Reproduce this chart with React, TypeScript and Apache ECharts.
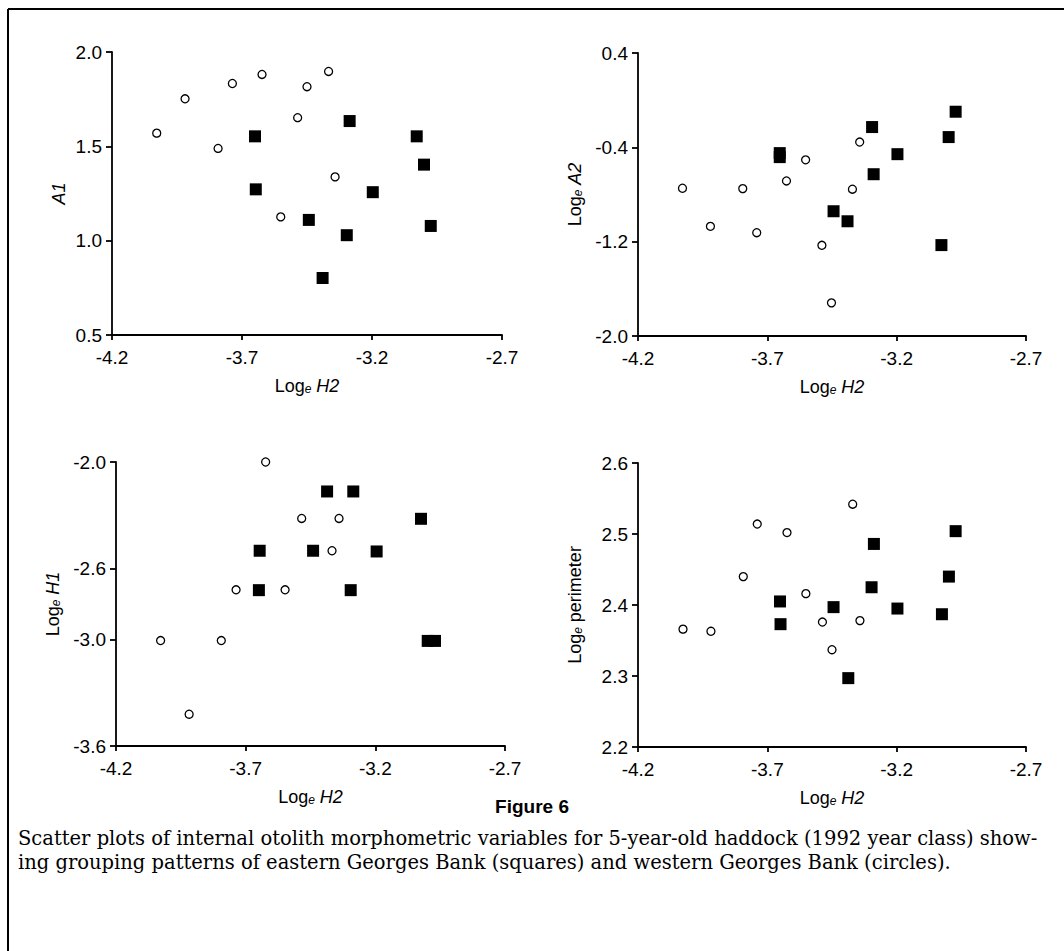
import React, { useEffect, useRef } from "react";
import * as echarts from "echarts";

// x ticks shared by all panels (Log_e H2)
const xTicks = [-4.2, -3.7, -3.2, -2.7];

// Panel A1 vs Log_e H2
const a1Ticks = [0.5, 1.0, 1.5, 2.0];
const a1West = [
  [-4.028, 1.57], [-3.919, 1.752], [-3.737, 1.833], [-3.623, 1.881], [-3.367, 1.897],
  [-3.45, 1.816], [-3.486, 1.652], [-3.792, 1.489], [-3.342, 1.338], [-3.551, 1.126],
];
const a1East = [
  [-3.65, 1.553], [-3.647, 1.272], [-3.443, 1.11], [-3.286, 1.634], [-3.297, 1.029],
  [-3.39, 0.802], [-3.197, 1.257], [-3.028, 1.553], [-3.0, 1.403], [-2.974, 1.078],
];

// Panel Log_e A2 vs Log_e H2
const a2Ticks = [-2.0, -1.2, -0.4, 0.4];
const a2West = [
  [-4.028, -0.747], [-3.92, -1.07], [-3.795, -0.75], [-3.741, -1.124], [-3.626, -0.685],
  [-3.552, -0.506], [-3.489, -1.231], [-3.452, -1.719], [-3.371, -0.755], [-3.343, -0.355],
];
const a2East = [
  [-3.652, -0.449], [-3.652, -0.483], [-3.444, -0.942], [-3.39, -1.027], [-3.295, -0.228],
  [-3.289, -0.628], [-3.197, -0.458], [-3.027, -1.229], [-2.999, -0.313], [-2.972, -0.098],
];

// Panel Log_e H1 vs Log_e H2
const h1Ticks = [-3.6, -3.0, -2.6, -2.0];
const h1West = [
  [-3.623, -2.0], [-3.484, -2.318], [-3.34, -2.318], [-3.367, -2.5], [-3.737, -2.72],
  [-3.548, -2.72], [-4.028, -3.006], [-3.794, -3.006], [-3.918, -3.421],
];
const h1East = [
  [-3.386, -2.166], [-3.285, -2.166], [-3.024, -2.32], [-3.646, -2.5], [-3.44, -2.5],
  [-3.195, -2.504], [-3.649, -2.722], [-3.295, -2.722], [-2.998, -3.008], [-2.97, -3.008],
];

// Panel Log_e perimeter vs Log_e H2
const perTicks = [2.2, 2.3, 2.4, 2.5, 2.6];
const perWest = [
  [-4.026, 2.366], [-3.918, 2.363], [-3.793, 2.44], [-3.739, 2.514], [-3.624, 2.502],
  [-3.551, 2.416], [-3.487, 2.376], [-3.45, 2.337], [-3.342, 2.378], [-3.37, 2.542],
];
const perEast = [
  [-3.651, 2.405], [-3.649, 2.373], [-3.444, 2.397], [-3.387, 2.297], [-3.288, 2.486],
  [-3.297, 2.425], [-3.197, 2.395], [-3.025, 2.387], [-2.998, 2.44], [-2.972, 2.504],
];

const figureTitle = "Figure 6";
const captionLines = [
  "Scatter plots of internal otolith morphometric variables for 5-year-old haddock (1992 year class) show-",
  "ing grouping patterns of eastern Georges Bank (squares) and western Georges Bank (circles).",
];

const FONT = "Liberation Sans";
const rich = {
  n: { fontFamily: FONT, fontSize: 18, color: "#000", lineHeight: 22, verticalAlign: "bottom" },
  s: { fontFamily: FONT, fontSize: 12, color: "#000", fontStyle: "italic", lineHeight: 10, verticalAlign: "bottom" },
  i: { fontFamily: FONT, fontSize: 18, color: "#000", fontStyle: "italic", lineHeight: 22, verticalAlign: "bottom" },
};

const panels = [
  { grid: { left: 112, top: 52, width: 390, height: 283 }, yMin: 0.5, yMax: 2.0, yTicks: a1Ticks,
    yName: "{i|A1}", yGap: 44, west: a1West, east: a1East },
  { grid: { left: 638, top: 53, width: 388, height: 283 }, yMin: -2.0, yMax: 0.4, yTicks: a2Ticks,
    yName: "{n|Log}{s|e}{n| }{i|A2}", yGap: 54, west: a2West, east: a2East },
  { grid: { left: 116, top: 462, width: 389, height: 284 }, yMin: -3.6, yMax: -2.0, yTicks: h1Ticks,
    yName: "{n|Log}{s|e}{n| }{i|H1}", yGap: 54, west: h1West, east: h1East },
  { grid: { left: 638, top: 463, width: 388, height: 284 }, yMin: 2.2, yMax: 2.6, yTicks: perTicks,
    yName: "{n|Log}{s|e}{n| perimeter}", yGap: 54, west: perWest, east: perEast },
];

const axisCommon = {
  axisLine: { onZero: false, lineStyle: { color: "#000", width: 1.8 } },
  splitLine: { show: false },
};

export default function App() {
  const ref = useRef<HTMLDivElement>(null);
  useEffect(() => {
    if (!ref.current) return;
    const chart = echarts.init(ref.current, null, { renderer: "svg" });
    const grid: any[] = [];
    const xAxis: any[] = [];
    const yAxis: any[] = [];
    const series: any[] = [];
    panels.forEach((p, k) => {
      grid.push(p.grid);
      xAxis.push({
        ...axisCommon,
        type: "value",
        gridIndex: k,
        min: -4.2,
        max: -2.7,
        name: "{n|Log}{s|e}{n| }{i|H2}",
        nameLocation: "middle",
        nameGap: 38,
        nameTextStyle: { rich },
        axisTick: { show: true, length: 5, customValues: xTicks, lineStyle: { color: "#000", width: 1.8 } },
        axisLabel: {
          customValues: xTicks,
          margin: 13,
          color: "#000",
          fontFamily: FONT,
          fontSize: 19,
          formatter: (v: number) => v.toFixed(1),
        },
      });
      yAxis.push({
        ...axisCommon,
        type: "value",
        gridIndex: k,
        min: p.yMin,
        max: p.yMax,
        name: p.yName,
        nameLocation: "middle",
        nameRotate: 90,
        nameGap: p.yGap,
        nameTextStyle: { rich },
        axisTick: { show: true, length: 6, customValues: p.yTicks, lineStyle: { color: "#000", width: 1.8 } },
        axisLabel: {
          customValues: p.yTicks,
          margin: 10,
          color: "#000",
          fontFamily: FONT,
          fontSize: 19,
          formatter: (v: number) => v.toFixed(1),
        },
      });
      series.push({
        type: "scatter",
        xAxisIndex: k,
        yAxisIndex: k,
        data: p.west,
        symbol: "circle",
        symbolSize: 8,
        itemStyle: { color: "#fff", borderColor: "#000", borderWidth: 1.3, opacity: 1 },
        z: 3,
      });
      series.push({
        type: "scatter",
        xAxisIndex: k,
        yAxisIndex: k,
        data: p.east,
        symbol: "rect",
        symbolSize: 12,
        itemStyle: { color: "#000", opacity: 1 },
        z: 4,
      });
    });

    chart.setOption({
      animation: false,
      backgroundColor: "#fff",
      grid,
      xAxis,
      yAxis,
      series,
      graphic: [
        { type: "line", shape: { x1: 8, y1: 9, x2: 1064, y2: 9 }, style: { stroke: "#000", lineWidth: 2 } },
        { type: "line", shape: { x1: 8, y1: 9, x2: 8, y2: 951 }, style: { stroke: "#000", lineWidth: 2 } },
        {
          type: "text",
          x: 532,
          y: 806,
          style: {
            text: figureTitle,
            fontFamily: FONT,
            fontWeight: "bold",
            fontSize: 19,
            fill: "#000",
            textAlign: "center",
            textVerticalAlign: "middle",
          },
        },
        ...captionLines.map((t, i) => ({
          type: "text",
          x: 18,
          y: 838 + i * 24,
          style: {
            text: t,
            fontFamily: "DejaVu Serif",
            fontSize: 19.5,
            fill: "#000",
            textAlign: "left",
            textVerticalAlign: "middle",
          },
        })),
      ],
    });
    return () => chart.dispose();
  }, []);
  return (
    <div
      ref={ref}
      style={{ position: "absolute", left: 0, top: 0, width: 1064, height: 951 }}
    />
  );
}
